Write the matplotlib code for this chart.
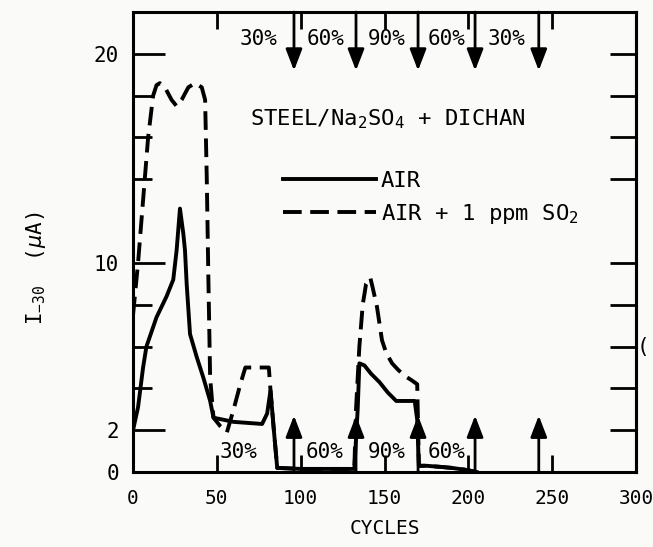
import matplotlib
matplotlib.use('Agg')
import matplotlib.pyplot as plt

plt.rcParams['font.family'] = ['DejaVu Sans Mono', 'DejaVu Sans']
plt.rcParams['mathtext.fontset'] = 'custom'
plt.rcParams['mathtext.rm'] = 'DejaVu Sans Mono'
plt.rcParams['mathtext.it'] = 'DejaVu Sans:italic'

# AIR curve (solid)
air_cycles = [0, 3, 6, 8, 14, 20, 24, 26, 28, 30, 31, 32, 34, 38, 42, 46, 48, 60, 77, 80, 82,
              84, 86, 100, 120, 132, 134, 135, 138, 142, 147, 152, 157, 163, 168, 169.5,
              170.5, 175, 183, 190, 199, 205]
air_current = [2.0, 3.1, 5.0, 6.0, 7.4, 8.4, 9.2, 10.6, 12.6, 11.4, 10.6, 9.0, 6.6, 5.5, 4.5,
               3.4, 2.6, 2.4, 2.3, 2.8, 3.9, 2.0, 0.2, 0.15, 0.15, 0.15, 3.0, 5.2, 5.1, 4.7,
               4.3, 3.8, 3.4, 3.4, 3.4, 2.5, 0.3, 0.3, 0.25, 0.2, 0.1, 0.0]

# AIR + 1 ppm SO2 curve (dashed)
so2_cycles = [0, 3, 6, 9, 12, 14, 16, 19, 23, 26, 29, 33, 37, 41, 43, 44, 45, 46, 48, 52, 56,
              60, 64, 67, 73, 81, 82, 84, 86, 100, 120, 132, 133, 135, 137, 139, 141.5, 143,
              145.5, 148.5, 151, 154.5, 158, 162, 166, 169.5, 170.5, 175, 183, 190, 199, 205]
so2_current = [7.5, 10.0, 13.0, 16.0, 18.0, 18.5, 18.6, 18.4, 17.8, 17.5, 17.8, 18.4, 18.6,
               18.4, 17.8, 14.0, 9.0, 4.5, 2.6, 2.2, 1.9, 3.0, 4.2, 5.0, 5.0, 5.0, 3.9, 2.0,
               0.2, 0.15, 0.15, 0.15, 3.0, 6.0, 8.0, 9.0, 9.3, 8.8, 7.9, 6.3, 5.7, 5.2, 4.9,
               4.6, 4.4, 4.2, 0.3, 0.3, 0.25, 0.2, 0.1, 0.0]

# humidity changes
step_cycles = [96, 133, 170, 204, 242]
top_labels = ['30%', '60%', '90%', '60%', '30%']
top_label_x = [75, 115, 151.5, 187, 223]
bottom_labels = ['30%', '60%', '90%', '60%']
bottom_label_x = [63, 114, 151.5, 187]

fig = plt.figure(figsize=(6.53, 5.47), dpi=100, facecolor='#fafaf8')
ax = fig.add_axes([0.2037, 0.137, 0.7703, 0.841])
ax.set_facecolor('#fafaf8')

ax.plot(air_cycles, air_current, color='black', lw=2.8, solid_joinstyle='round',
        label='AIR')
ax.plot(so2_cycles, so2_current, color='black', lw=2.8, dashes=(4.8, 2.2),
        label='AIR + 1 ppm SO$_2$')

for c in step_cycles:
    ax.annotate('', xy=(c, 19.2), xytext=(c, 22),
                arrowprops=dict(arrowstyle='-|>,head_length=0.65,head_width=0.25',
                                mutation_scale=20, lw=2, color='black',
                                shrinkA=0, shrinkB=0))
    ax.annotate('', xy=(c, 2.7), xytext=(c, 0),
                arrowprops=dict(arrowstyle='-|>,head_length=0.65,head_width=0.25',
                                mutation_scale=20, lw=2, color='black',
                                shrinkA=0, shrinkB=0))

for x, t in zip(top_label_x, top_labels):
    ax.text(x, 20.7, t, ha='center', va='center', fontsize=15)
for x, t in zip(bottom_label_x, bottom_labels):
    ax.text(x, 0.95, t, ha='center', va='center', fontsize=15)

ax.text(69.8, 16.6, 'STEEL/Na$_2$SO$_4$ + DICHAN', ha='left', va='baseline', fontsize=16)

leg = ax.legend(loc='upper left', bbox_to_anchor=(0.298, 0.655), frameon=False,
                fontsize=16, handlelength=4.2, handletextpad=0.2, labelspacing=0.5,
                borderpad=0, borderaxespad=0)

ax.set_xlim(0, 300)
ax.set_ylim(0, 22)
ax.set_xticks([0, 50, 100, 150, 200, 250, 300])
ax.set_yticks([0, 2, 10, 20])
ax.set_yticks([4, 6, 8, 14, 16, 18], minor=True)
ax.tick_params(axis='x', direction='in', top=True, length=12, width=2, pad=12,
               labelsize=14)
ax.tick_params(axis='y', which='major', direction='in', right=False, length=23, width=2,
               pad=10, labelsize=15)
ax.tick_params(axis='y', which='minor', direction='in', right=False, length=14, width=2)

sec = ax.secondary_yaxis('right')
sec.set_yticks([2, 4, 6, 8, 10, 14, 16, 18, 20])
sec.tick_params(direction='in', length=19, width=2, labelright=False)
sec.spines['right'].set_linewidth(2.2)

for s in ax.spines.values():
    s.set_linewidth(2.2)

ax.set_xlabel('CYCLES', fontsize=14, labelpad=8)
ax.set_ylabel(r'I$_{-30}$  ($\mu$A)', fontsize=15)
ax.yaxis.set_label_coords(-0.17, 0.443)

fig.text(0.975, 1 - 347 / 547, '(', fontsize=15, ha='left', va='center')

fig.savefig('out.png', dpi=100, facecolor=fig.get_facecolor())
